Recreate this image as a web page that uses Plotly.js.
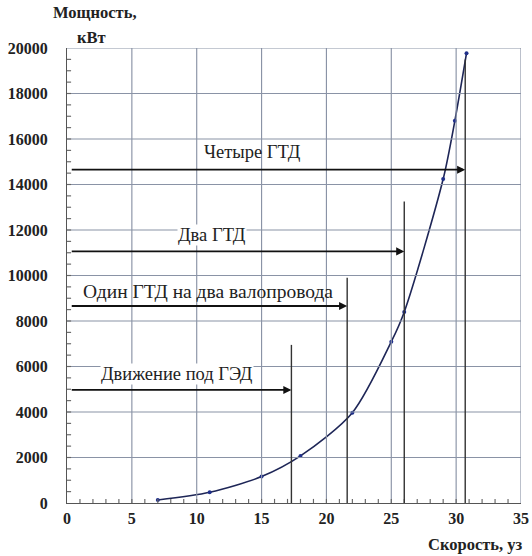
<!DOCTYPE html>
<html>
<head>
<meta charset="utf-8">
<script src="https://cdn.plot.ly/plotly-3.0.1.min.js"></script>
<style>html,body{margin:0;padding:0;background:#fff;}#chart{width:532px;height:556px;}</style>
</head>
<body>
<div id="chart"></div>
<script>
// Power curve (speed in knots, power in kW)
const speedKnots = [7, 11, 15, 18, 22, 25, 26, 29, 29.9, 30.8];
const powerKW    = [130, 470, 1160, 2070, 3970, 7090, 8400, 14240, 16800, 19770];

// Operating modes
const modeNames  = ["Движение под ГЭД", "Один ГТД на два валопровода", "Два ГТД", "Четыре ГТД"];
const modeSpeed  = [17.3, 21.6, 26.0, 30.7];     // max speed per mode (vertical line)
const modePower  = [4970, 8660, 11060, 14650];   // arrow level per mode
const modeTop    = [6950, 9900, 13250, 19500];   // top of vertical line
const labelX     = [8.45, 10.85, 11.15, 14.3];
const labelY     = [5650, 9275, 11760, 15430];
const labelBg    = ["#ffffff", "rgba(0,0,0,0)", "#ffffff", "rgba(0,0,0,0)"];

// Axis ticks
const xTicks = [0, 5, 10, 15, 20, 25, 30, 35];
const yTicks = [0, 2000, 4000, 6000, 8000, 10000, 12000, 14000, 16000, 18000, 20000];
const xMinorStep = 1, yMinorStep = 500;

const xTitle = "Скорость, уз";
const yTitle1 = "Мощность,";
const yTitle2 = "кВт";

const serif = "Liberation Serif";
const gridC = "#8a93a6";
const xMax = xTicks[xTicks.length - 1], yMax = yTicks[yTicks.length - 1];

const trace = {
  x: speedKnots, y: powerKW,
  type: "scatter", mode: "lines+markers",
  line: {color: "#1e2657", width: 1.6, shape: "spline", smoothing: 0.8},
  marker: {color: "#1f2f8a", size: 4},
  showlegend: false
};

const shapes = [];
// grid lines (incl. top/right frame)
xTicks.slice(1).forEach(v => shapes.push({type: "line", xref: "x", yref: "y", x0: v, x1: v, y0: 0, y1: yMax, line: {color: gridC, width: 1.15}}));
yTicks.slice(1).forEach(v => shapes.push({type: "line", xref: "x", yref: "y", x0: 0, x1: xMax, y0: v, y1: v, line: {color: gridC, width: 1.15}}));
// minor ticks (inside)
for (let v = xMinorStep; v < xMax; v += xMinorStep) {
  shapes.push({type: "line", xref: "x", yref: "y", x0: v, x1: v, y0: 0, y1: yMax * 0.009, line: {color: "#666", width: 1.15}});
}
for (let v = yMinorStep; v < yMax; v += yMinorStep) {
  shapes.push({type: "line", xref: "x", yref: "y", x0: 0, x1: xMax * 0.009, y0: v, y1: v, line: {color: "#666", width: 1.15}});
}
// mode limit verticals
modeSpeed.forEach((s, i) => shapes.push({
  type: "line", xref: "x", yref: "y", x0: s, x1: s, y0: 0, y1: modeTop[i],
  line: {color: "#333", width: 1.4}
}));

const annotations = [];
modeSpeed.forEach((s, i) => {
  annotations.push({
    x: s, y: modePower[i], xref: "x", yref: "y",
    ax: 0.25, ay: modePower[i], axref: "x", ayref: "y",
    text: "", showarrow: true, arrowhead: 2, arrowsize: 0.9, arrowwidth: 1.8,
    arrowcolor: "#111", standoff: 0
  });
  annotations.push({
    x: labelX[i], y: labelY[i], xref: "x", yref: "y",
    text: modeNames[i], showarrow: false,
    font: {family: serif, size: i === 1 ? 19.5 : 18.5, color: "#222"},
    bgcolor: labelBg[i], borderpad: 0
  });
});
annotations.push({
  xref: "paper", yref: "paper", x: 0.061, y: 1.079, xanchor: "center", yanchor: "middle",
  text: "<b>" + yTitle1 + "</b>", showarrow: false,
  font: {family: serif, size: 16.5, color: "#222"}
});
annotations.push({
  xref: "paper", yref: "paper", x: 0.053, y: 1.024, xanchor: "center", yanchor: "middle",
  text: "<b>" + yTitle2 + "</b>", showarrow: false,
  font: {family: serif, size: 16.5, color: "#222"}
});
annotations.push({
  xref: "paper", yref: "paper", x: 0.899, y: -0.092, xanchor: "center", yanchor: "middle",
  text: "<b>" + xTitle + "</b>", showarrow: false,
  font: {family: serif, size: 16.5, color: "#222"}
});

const tickFont = {family: serif, size: 16, color: "#222", weight: "bold"};

const layout = {
  width: 532, height: 556,
  margin: {l: 67, r: 11, t: 48, b: 53},
  paper_bgcolor: "#fff", plot_bgcolor: "rgba(0,0,0,0)",
  showlegend: false,
  font: {family: serif, color: "#222"},
  xaxis: {
    range: [0, xMax], tickvals: xTicks, tickformat: "d",
    showgrid: false, showline: true, linecolor: "#555", linewidth: 1.2, mirror: false,
    ticks: "", tickfont: tickFont, ticklabelstandoff: 1,
    zeroline: false
  },
  yaxis: {
    range: [0, yMax], tickvals: yTicks, tickformat: "d",
    showgrid: false, showline: true, linecolor: "#555", linewidth: 1.2, mirror: false,
    ticks: "", tickfont: tickFont, ticklabelstandoff: 15,
    zeroline: false
  },
  shapes: shapes,
  annotations: annotations
};

Plotly.newPlot("chart", [trace], layout, {displayModeBar: false});
</script>
</body>
</html>
